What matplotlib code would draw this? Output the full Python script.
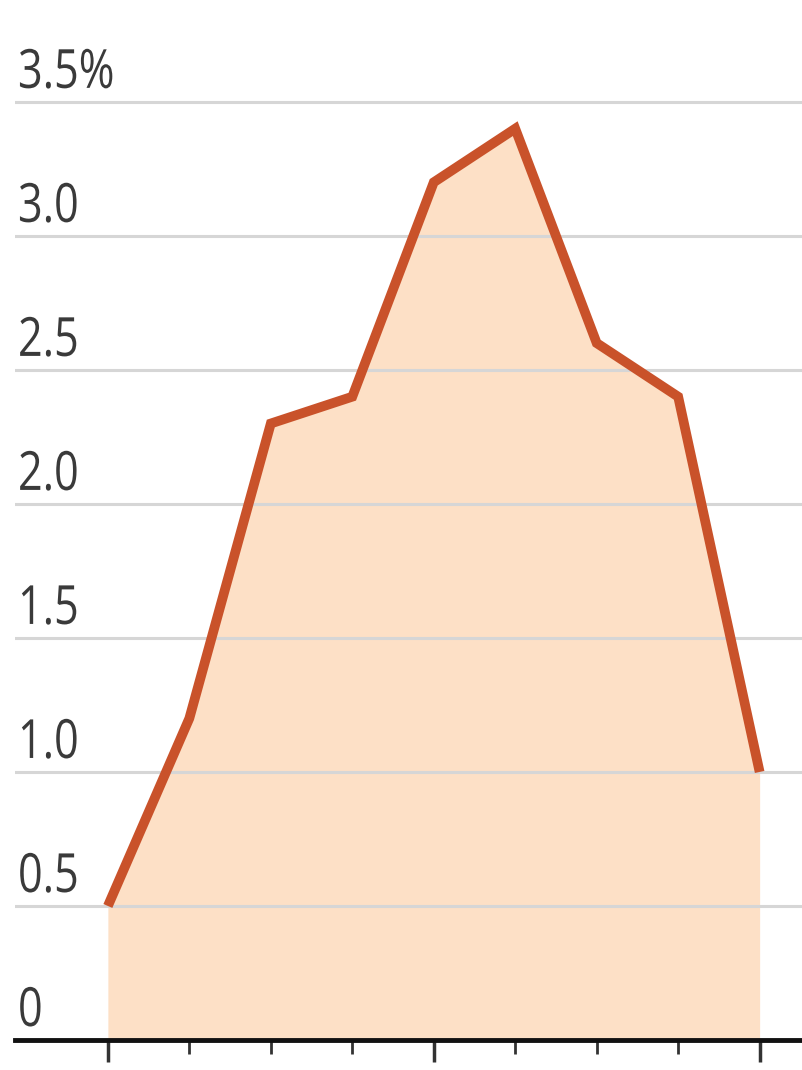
import matplotlib.pyplot as plt
from matplotlib.textpath import TextPath
from matplotlib.patches import PathPatch
from matplotlib.font_manager import FontProperties
from matplotlib.transforms import Affine2D

# values
periods = [0, 1, 2, 3, 4, 5, 6, 7, 8]
values = [0.5, 1.2, 2.3, 2.4, 3.2, 3.4, 2.6, 2.4, 1.0]
y_ticks = [0, 0.5, 1.0, 1.5, 2.0, 2.5, 3.0, 3.5]
y_labels = ["0", "0.5", "1.0", "1.5", "2.0", "2.5", "3.0", "3.5%"]
major_x = [0, 4, 8]

line_color = "#c9522a"
fill_color = "#fde0c6"
grid_color = "#d6d6d6"
text_color = "#3a3a3a"

fig = plt.figure(figsize=(8.02, 10.7), dpi=100)
ax = fig.add_axes([15 / 802, 30 / 1070, 787 / 802, 1040 / 1070])

ax.fill_between(periods, values, 0, color=fill_color, lw=0, zorder=1)
for t in y_ticks[1:]:
    ax.axhline(t, color=grid_color, lw=2.2, zorder=2)
ax.plot(periods, values, color=line_color, lw=7, solid_joinstyle="miter",
        solid_capstyle="butt", zorder=3)

ax.set_xlim(-1.14, 8.52)
ax.set_ylim(0, 3.88)

# condensed y labels above the gridlines (text drawn as narrowed glyph paths)
prop = FontProperties(family="Open Sans")
for t, lab in zip(y_ticks, y_labels):
    path = TextPath((0, 0), lab, size=54, prop=prop)
    x0, y0 = ax.transData.transform((-1.14, t))
    tr = Affine2D().scale(0.8, 1.0).translate(x0 + 3, y0 + 14)
    ax.add_patch(PathPatch(path, transform=tr, fc=text_color, ec="none",
                           zorder=4, clip_on=False))

for s in ["top", "right", "left"]:
    ax.spines[s].set_visible(False)
ax.spines["bottom"].set_linewidth(3.5)
ax.spines["bottom"].set_color("#111111")

ax.set_yticks([])
ax.set_xticks(major_x)
ax.set_xticks([p for p in periods if p not in major_x], minor=True)
ax.tick_params(axis="x", which="major", length=16, width=2.5, color="#333333",
               labelbottom=False)
ax.tick_params(axis="x", which="minor", length=10, width=2, color="#333333",
               labelbottom=False)

fig.savefig("out.png", dpi=100)
